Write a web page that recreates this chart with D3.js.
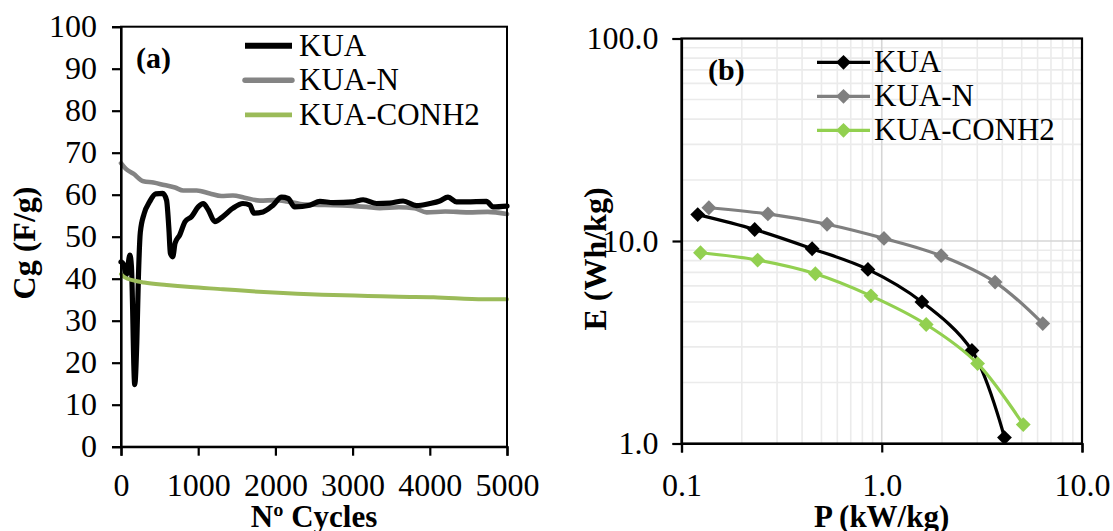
<!DOCTYPE html>
<html>
<head>
<meta charset="utf-8">
<script src="https://cdn.jsdelivr.net/npm/d3@7"></script>
<style>
  body { margin: 0; background: #fff; }
  svg text { font-family: "Liberation Serif", "Times New Roman", serif; fill: #000; }
</style>
</head>
<body>
<svg id="chart" width="1113" height="531"></svg>
<script>
// ---- panel (a): capacitance vs cycles ----
let kuaCycles = [0, 30, 70, 115, 135, 178, 205, 225, 250, 300, 370, 450, 540, 590, 620, 640, 670, 700, 760, 830, 915, 1000, 1065, 1130, 1215, 1320, 1450, 1580, 1670, 1720, 1840, 1970, 2080, 2165, 2250, 2446, 2576, 2750, 3007, 3136, 3310, 3482, 3654, 3827, 4000, 4129, 4236, 4345, 4474, 4733, 4819, 5000]
let kuaCg = [44.0, 43.5, 41.0, 45.6, 43.0, 14.8, 25.0, 40.0, 51.0, 55.5, 58.3, 60.2, 60.3, 58.7, 52.0, 46.0, 45.2, 48.4, 50.4, 53.6, 54.8, 57.1, 57.9, 56.4, 53.6, 54.8, 56.8, 57.9, 57.5, 55.6, 55.9, 57.5, 59.4, 59.1, 57.1, 57.5, 58.4, 58.1, 58.3, 58.8, 57.9, 58.0, 58.5, 57.4, 57.9, 58.5, 59.4, 58.3, 58.3, 58.4, 57.1, 57.3]

let kuaNCycles = [0, 60, 160, 290, 420, 560, 700, 806, 980, 1150, 1300, 1450, 1600, 1800, 2000, 2150, 2320, 2500, 2750, 3000, 3180, 3350, 3600, 3800, 3960, 4200, 4500, 4750, 5000]
let kuaNCg = [67.5, 66.2, 65.0, 63.2, 62.9, 62.3, 61.7, 61.0, 61.0, 60.3, 59.7, 59.8, 59.3, 58.6, 58.7, 58.4, 57.8, 57.6, 57.5, 57.3, 57.1, 56.8, 57.0, 56.8, 55.8, 56.0, 55.8, 55.9, 55.4]

let conhCycles = [0, 50, 160, 300, 590, 900, 1320, 1700, 2100, 2750, 3200, 3600, 4050, 4700, 5000]
let conhCg = [41.1, 40.3, 39.6, 39.1, 38.5, 38.0, 37.5, 37.0, 36.6, 36.1, 35.9, 35.7, 35.6, 35.1, 35.1]

let cycleTicks = [0, 1000, 2000, 3000, 4000, 5000]
let cgTicks = [0, 10, 20, 30, 40, 50, 60, 70, 80, 90, 100]

// ---- panel (b): Ragone plot ----
let kuaP = [0.1205, 0.232, 0.449, 0.853, 1.587, 2.82, 4.10]
let kuaE = [13.5, 11.4, 9.16, 7.24, 5.0, 2.88, 1.07]
let kuaNP = [0.137, 0.270, 0.533, 1.026, 1.98, 3.68, 6.37]
let kuaNE = [14.6, 13.6, 12.1, 10.3, 8.46, 6.27, 3.91]
let conhP = [0.1244, 0.240, 0.466, 0.883, 1.667, 3.01, 5.09]
let conhE = [8.75, 8.05, 6.89, 5.36, 3.87, 2.48, 1.24]

let pTicks = [0.1, 1, 10]
let eTicks = [1, 10, 100]

let svg = d3.select("#chart")
svg.append("rect").attr("width", 1113).attr("height", 531).attr("fill", "#fff")

let fontSize = 31
let tickFont = 32

// ================= panel (a) =================
let xa = d3.scaleLinear().domain([0, 5000]).range([121, 507])
let ya = d3.scaleLinear().domain([0, 100]).range([446.7, 26.7])

let gA = svg.append("g")

let lineA = d3.line()
  .x(d => xa(d[0]))
  .y(d => ya(d[1]))
  .curve(d3.curveMonotoneX)

let seriesA = [
  { name: "KUA-CONH2", x: conhCycles, y: conhCg, color: "#9bbb59", w: 4 },
  { name: "KUA-N", x: kuaNCycles, y: kuaNCg, color: "#848484", w: 4.6 },
  { name: "KUA", x: kuaCycles, y: kuaCg, color: "#000", w: 5.2 }
]
// grey first, black over it, green on top near the start
let drawOrder = [seriesA[1], seriesA[2], seriesA[0]]
drawOrder.forEach(function(s) {
  gA.append("path")
    .datum(d3.zip(s.x, s.y))
    .attr("fill", "none")
    .attr("stroke", s.color)
    .attr("stroke-width", s.w)
    .attr("stroke-linejoin", "round")
    .attr("stroke-linecap", "round")
    .attr("d", lineA)
})

// box
gA.append("rect")
  .attr("x", xa(0)).attr("y", ya(100))
  .attr("width", xa(5000) - xa(0)).attr("height", ya(0) - ya(100))
  .attr("fill", "none").attr("stroke", "#000").attr("stroke-width", 2)

let axA_y = gA.append("g")
  .attr("transform", `translate(${xa(0)},0)`)
  .call(d3.axisLeft(ya).tickValues(cgTicks).tickSize(9).tickPadding(15).tickFormat(d3.format("d")))
let axA_x = gA.append("g")
  .attr("transform", `translate(0,${ya(0)})`)
  .call(d3.axisBottom(xa).tickValues(cycleTicks).tickSize(9).tickPadding(18).tickFormat(d3.format("d")))

;[axA_x, axA_y].forEach(function(ax) {
  ax.select(".domain").attr("stroke-width", 2.2)
  ax.selectAll(".tick line").attr("stroke-width", 2.2)
  ax.selectAll("text").attr("font-size", tickFont).style("font-family", "Liberation Serif, serif")
})

gA.append("text")
  .attr("x", 314).attr("y", 527)
  .attr("text-anchor", "middle")
  .attr("font-size", fontSize).attr("font-weight", "bold")
  .text("Nº Cycles")

gA.append("text")
  .attr("transform", "translate(35,243) rotate(-90)")
  .attr("text-anchor", "middle")
  .attr("font-size", fontSize + 1).attr("font-weight", "bold")
  .text("Cg (F/g)")

gA.append("text")
  .attr("x", 136).attr("y", 68)
  .attr("font-size", 30).attr("font-weight", "bold")
  .text("(a)")

// legend (a)
let legA = [seriesA[2], seriesA[1], seriesA[0]]
legA.forEach(function(s, i) {
  let yy = 45.7 + i * 34.6
  gA.append("line")
    .attr("x1", 245).attr("x2", 292).attr("y1", yy).attr("y2", yy)
    .attr("stroke", s.color).attr("stroke-width", s.w + 0.8)
    .attr("stroke-linecap", s.name == "KUA-N" ? "round" : "butt")
  gA.append("text")
    .attr("x", 299).attr("y", yy + 10)
    .attr("font-size", fontSize)
    .text(s.name)
})

// ================= panel (b) =================
let xb = d3.scaleLog().domain([0.1, 10]).range([681.5, 1082])
let yb = d3.scaleLog().domain([1, 100]).range([443.5, 38.5])

let gB = svg.append("g")

// minor grid
let minorX = []
let minorY = []
;[0.1, 1].forEach(function(dec) {
  for (let k = 2; k <= 9; k++) minorX.push(dec * k)
})
;[1, 10].forEach(function(dec) {
  for (let k = 2; k <= 9; k++) minorY.push(dec * k)
})
gB.selectAll(".minx").data(minorX).enter().append("line")
  .attr("x1", d => xb(d)).attr("x2", d => xb(d))
  .attr("y1", yb(1)).attr("y2", yb(100))
  .attr("stroke", "#ebebeb").attr("stroke-width", 1.6)
gB.selectAll(".miny").data(minorY).enter().append("line")
  .attr("y1", d => yb(d)).attr("y2", d => yb(d))
  .attr("x1", xb(0.1)).attr("x2", xb(10))
  .attr("stroke", "#ebebeb").attr("stroke-width", 1.6)
// major grid
gB.selectAll(".majx").data([1]).enter().append("line")
  .attr("x1", d => xb(d)).attr("x2", d => xb(d))
  .attr("y1", yb(1)).attr("y2", yb(100))
  .attr("stroke", "#d6d6d6").attr("stroke-width", 1.6)
gB.selectAll(".majy").data([10]).enter().append("line")
  .attr("y1", d => yb(d)).attr("y2", d => yb(d))
  .attr("x1", xb(0.1)).attr("x2", xb(10))
  .attr("stroke", "#d6d6d6").attr("stroke-width", 1.6)

let lineB = d3.line()
  .x(d => xb(d[0]))
  .y(d => yb(d[1]))
  .curve(d3.curveCatmullRom)

let seriesB = [
  { name: "KUA", x: kuaP, y: kuaE, color: "#000" },
  { name: "KUA-N", x: kuaNP, y: kuaNE, color: "#7f7f7f" },
  { name: "KUA-CONH2", x: conhP, y: conhE, color: "#92d050" }
]
let diamond = d3.symbol().type(d3.symbolSquare).size(110)

;[seriesB[1], seriesB[0], seriesB[2]].forEach(function(s) {
  let pts = d3.zip(s.x, s.y)
  gB.append("path")
    .datum(pts)
    .attr("fill", "none")
    .attr("stroke", s.color)
    .attr("stroke-width", 3.2)
    .attr("d", lineB)
  gB.selectAll(null).data(pts).enter().append("path")
    .attr("d", diamond)
    .attr("transform", d => `translate(${xb(d[0])},${yb(d[1])}) rotate(45)`)
    .attr("fill", s.color)
})

gB.append("rect")
  .attr("x", xb(0.1)).attr("y", yb(100))
  .attr("width", xb(10) - xb(0.1)).attr("height", yb(1) - yb(100))
  .attr("fill", "none").attr("stroke", "#000").attr("stroke-width", 2.2)

let axB_y = gB.append("g")
  .attr("transform", `translate(${xb(0.1)},0)`)
  .call(d3.axisLeft(yb).tickValues(eTicks).tickSize(9).tickPadding(14).tickFormat(d3.format(".1f")))
let axB_x = gB.append("g")
  .attr("transform", `translate(0,${yb(1)})`)
  .call(d3.axisBottom(xb).tickValues(pTicks).tickSize(9).tickPadding(21).tickFormat(d3.format(".1f")))

;[axB_x, axB_y].forEach(function(ax) {
  ax.select(".domain").attr("stroke-width", 2.2)
  ax.selectAll(".tick line").attr("stroke-width", 2.2)
  ax.selectAll("text").attr("font-size", tickFont).style("font-family", "Liberation Serif, serif")
})

gB.append("text")
  .attr("x", 881.7).attr("y", 527)
  .attr("text-anchor", "middle")
  .attr("font-size", fontSize).attr("font-weight", "bold")
  .text("P (kW/kg)")

gB.append("text")
  .attr("transform", "translate(606,259) rotate(-90)")
  .attr("text-anchor", "middle")
  .attr("font-size", fontSize + 1).attr("font-weight", "bold")
  .text("E (Wh/kg)")

gB.append("text")
  .attr("x", 708).attr("y", 80)
  .attr("font-size", 30).attr("font-weight", "bold")
  .text("(b)")

// legend (b)
seriesB.forEach(function(s, i) {
  let yy = 62.3 + i * 34
  gB.append("line")
    .attr("x1", 817).attr("x2", 870).attr("y1", yy).attr("y2", yy)
    .attr("stroke", s.color).attr("stroke-width", 3.2)
  gB.append("path")
    .attr("d", diamond)
    .attr("transform", `translate(843.5,${yy}) rotate(45)`)
    .attr("fill", s.color)
  gB.append("text")
    .attr("x", 874).attr("y", yy + 10)
    .attr("font-size", fontSize)
    .text(s.name)
})
</script>
</body>
</html>
